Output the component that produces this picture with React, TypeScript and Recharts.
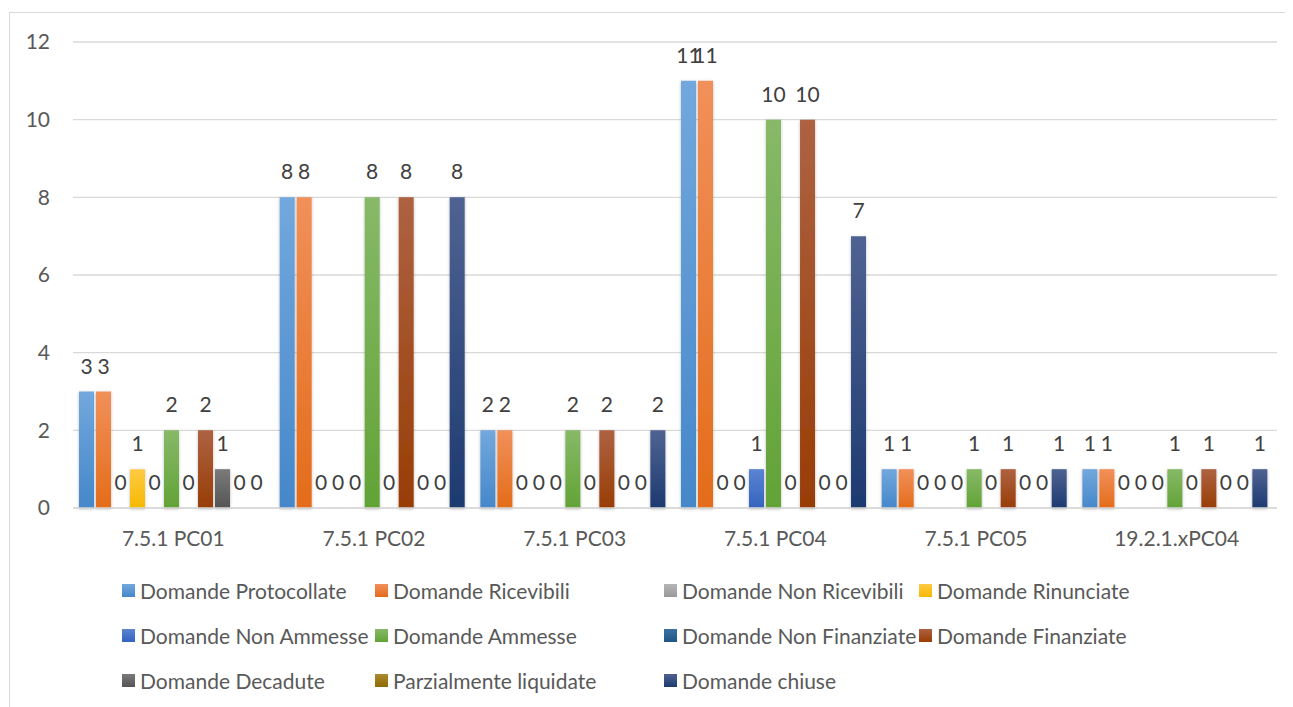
import { BarChart, Bar, XAxis, YAxis, CartesianGrid, Legend, LabelList } from 'recharts';

const categories = ['7.5.1 PC01', '7.5.1 PC02', '7.5.1 PC03', '7.5.1 PC04', '7.5.1 PC05', '19.2.1.xPC04'];

const seriesNames = [
  'Domande Protocollate',
  'Domande Ricevibili',
  'Domande Non Ricevibili',
  'Domande Rinunciate',
  'Domande Non Ammesse',
  'Domande Ammesse',
  'Domande Non Finanziate',
  'Domande Finanziate',
  'Domande Decadute',
  'Parzialmente liquidate',
  'Domande chiuse',
];

const protocollate = [3, 8, 2, 11, 1, 1];
const ricevibili = [3, 8, 2, 11, 1, 1];
const nonRicevibili = [0, 0, 0, 0, 0, 0];
const rinunciate = [1, 0, 0, 0, 0, 0];
const nonAmmesse = [0, 0, 0, 1, 0, 0];
const ammesse = [2, 8, 2, 10, 1, 1];
const nonFinanziate = [0, 0, 0, 0, 0, 0];
const finanziate = [2, 8, 2, 10, 1, 1];
const decadute = [1, 0, 0, 0, 0, 0];
const parzialmente = [0, 0, 0, 0, 0, 0];
const chiuse = [0, 8, 2, 7, 1, 1];

const yTicks = [0, 2, 4, 6, 8, 10, 12];

const seriesValues = [
  protocollate, ricevibili, nonRicevibili, rinunciate, nonAmmesse, ammesse,
  nonFinanziate, finanziate, decadute, parzialmente, chiuse,
];

// top / bottom of the bar gradient (office-like look)
const gradients = [
  ['#72A8DD', '#4587CA'],
  ['#F1905A', '#E46C1A'],
  ['#B6B6B6', '#999999'],
  ['#FFCA45', '#F5B900'],
  ['#5A85D2', '#3463BE'],
  ['#87B968', '#62A336'],
  ['#3C70A2', '#1F5587'],
  ['#AE6242', '#983D05'],
  ['#7A7A7A', '#555555'],
  ['#AB8A33', '#8F6B00'],
  ['#4F6392', '#1D3A70'],
];

const keys = seriesNames.map((_, i) => `s${i}`);

const data = categories.map((category, ci) => {
  const row: any = { category };
  seriesValues.forEach((vals, si) => {
    row[keys[si]] = vals[ci];
  });
  return row;
});

const FONT = 'Lato, "Open Sans", sans-serif';
const FS = 21;

const renderLegend = (props: any) => {
  const payload = [...(props.payload || [])].sort(
    (a: any, b: any) => keys.indexOf(a.dataKey) - keys.indexOf(b.dataKey)
  );
  return (
    <div
      style={{
        display: 'grid',
        gridTemplateColumns: '253px 289px 255px auto',
        gridAutoRows: '45px',
        fontSize: FS,
        color: '#595959',
      }}
    >
      {payload.map((entry: any) => {
        const idx = keys.indexOf(entry.dataKey);
        const [top, bottom] = gradients[idx];
        return (
          <div key={entry.dataKey} style={{ display: 'flex', alignItems: 'center', whiteSpace: 'nowrap' }}>
            <span
              style={{
                display: 'inline-block',
                width: 13,
                height: 13,
                marginRight: 5,
                background: `linear-gradient(${top}, ${bottom})`,
              }}
            />
            <span>{seriesNames[idx]}</span>
          </div>
        );
      })}
    </div>
  );
};

// value label above each bar, zeros included
const renderValue = (props: any) => {
  const { x, y, width, value } = props;
  if (value === undefined || value === null) return null;
  return (
    <text
      x={Number(x) + Number(width) / 2}
      y={Number(y) - 18}
      textAnchor="middle"
      fill="#404040"
      fontSize={FS}
    >
      {value}
    </text>
  );
};

export default function App() {
  return (
    <div style={{ position: 'relative', width: 1285, height: 699, overflow: 'hidden', fontFamily: FONT }}>
      <div
        style={{
          position: 'absolute',
          left: 1,
          top: 4,
          width: 1400,
          height: 800,
          border: '1px solid #D9D9D9',
        }}
      />
      <BarChart
        width={1285}
        height={699}
        data={data}
        margin={{ top: 34, right: 16, left: 0, bottom: 4 }}
        barCategoryGap="3%"
        barGap={2}
      >
        <defs>
          {gradients.map(([top, bottom], i) => (
            <linearGradient key={i} id={`g${i}`} x1="0" y1="0" x2="0" y2="1">
              <stop offset="0%" stopColor={top} />
              <stop offset="100%" stopColor={bottom} />
            </linearGradient>
          ))}
          <filter id="barShadow" x="-30%" y="-10%" width="160%" height="120%">
            <feDropShadow dx="0" dy="1" stdDeviation="1.5" floodColor="#000" floodOpacity="0.28" />
          </filter>
        </defs>
        <CartesianGrid vertical={false} stroke="#D9D9D9" strokeWidth={1.3} />
        <XAxis
          dataKey="category"
          height={60}
          tickLine={false}
          tickSize={0}
          tickMargin={23}
          axisLine={{ stroke: '#D9D9D9', strokeWidth: 1.3 }}
          tick={{ fill: '#595959', fontSize: FS }}
        />
        <YAxis
          width={65}
          domain={[0, 12]}
          ticks={yTicks}
          tickLine={false}
          tickSize={0}
          tickMargin={23}
          axisLine={false}
          tick={{ fill: '#595959', fontSize: FS }}
        />
        <Legend
          verticalAlign="bottom"
          content={renderLegend}
          wrapperStyle={{ left: 114, top: 560, bottom: 'auto', width: 1160 }}
        />
        {keys.map((k, i) => (
          <Bar
            key={k}
            dataKey={k}
            name={seriesNames[i]}
            fill={`url(#g${i})`}
            filter="url(#barShadow)"
            minPointSize={0.01}
            isAnimationActive={false}
          >
            <LabelList dataKey={k} position="top" content={renderValue} />
          </Bar>
        ))}
      </BarChart>
    </div>
  );
}
